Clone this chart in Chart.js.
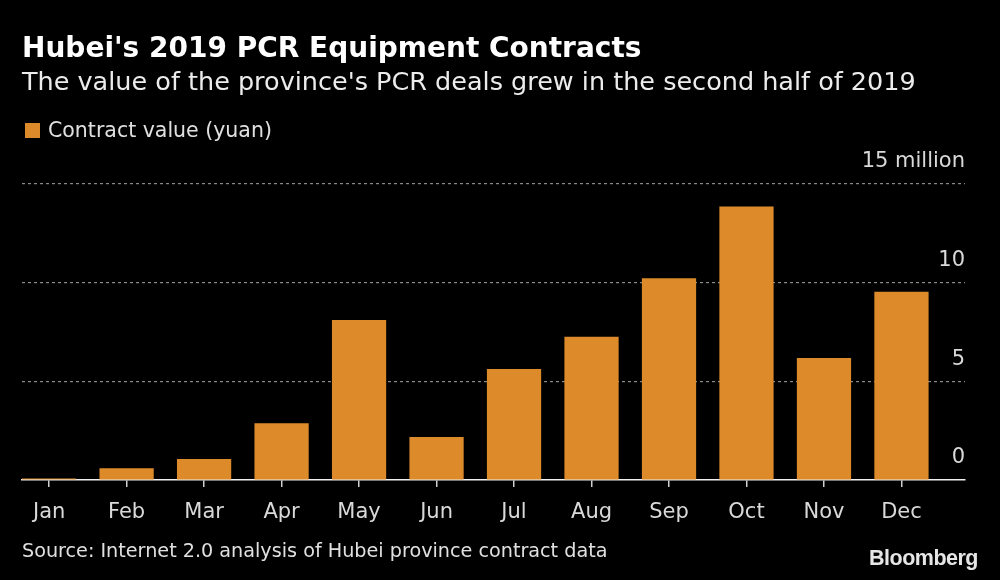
<!DOCTYPE html>
<html>
<head>
<meta charset="utf-8">
<script src="https://cdn.jsdelivr.net/npm/chart.js@4"></script>
<style>
  html, body { margin:0; padding:0; background:#000; }
  #wrap { position:relative; width:1000px; height:580px; background:#000; overflow:hidden; }
  #chart { position:absolute; left:0; top:0; }
  .t { position:absolute; white-space:nowrap; font-family:"DejaVu Sans", sans-serif; line-height:1; }
  #title { left:22px; top:34px; font-size:28px; font-weight:bold; color:#fff; }
  #subtitle { left:22px; top:69px; font-size:25.5px; color:#ececec; }
  #legend { left:25px; top:120px; font-size:20.5px; color:#e0e0e0; }
  #legend span.box { display:inline-block; width:15px; height:15px; background:#dd8b2a; margin-right:8px; vertical-align:-1px; }
  #source { left:22px; top:541px; font-size:19.2px; color:#e0e0e0; }
  #logo { left:869px; top:548px; font-size:21.5px; font-weight:bold; color:#e6e6e6; font-family:"Liberation Sans", Arial, sans-serif; letter-spacing:-0.5px; }
</style>
</head>
<body>
<div id="wrap">
  <canvas id="chart" width="1000" height="580"></canvas>
  <div class="t" id="title">Hubei's 2019 PCR Equipment Contracts</div>
  <div class="t" id="subtitle">The value of the province's PCR deals grew in the second half of 2019</div>
  <div class="t" id="legend"><span class="box"></span>Contract value (yuan)</div>
  <div class="t" id="source">Source: Internet 2.0 analysis of Hubei province contract data</div>
  <div class="t" id="logo">Bloomberg</div>
</div>
<script>
const months = ["Jan","Feb","Mar","Apr","May","Jun","Jul","Aug","Sep","Oct","Nov","Dec"];
const contractValue = [0.07, 0.6, 1.07, 2.88, 8.11, 2.18, 5.62, 7.26, 10.23, 13.86, 6.18, 9.54]; // million yuan
const yTicks = [0, 5, 10, 15];
const seriesName = "Contract value (yuan)";

const tickFont = { family: "DejaVu Sans", size: 21 };

new Chart(document.getElementById('chart'), {
  type: 'bar',
  data: {
    datasets: [{
      label: seriesName,
      data: contractValue.map((v, i) => ({ x: i, y: v })),
      backgroundColor: '#dd8b2a',
      borderWidth: 0,
      barPercentage: 0.7,
      categoryPercentage: 1.0
    }]
  },
  options: {
    responsive: false,
    animation: false,
    devicePixelRatio: 1,
    layout: { padding: { left: 22, right: 35, top: 184, bottom: 40 } },
    plugins: { legend: { display: false }, tooltip: { enabled: false }, title: { display: false } },
    scales: {
      x: {
        type: 'linear',
        offset: false,
        min: -0.35,
        max: 11.82,
        afterBuildTicks: (s) => { s.ticks = months.map((m, i) => ({ value: i })); },
        afterFit: (s) => { s.height = 60; },
        ticks: {
          callback: (v) => months[v] ?? '',
          color: '#d9d9d9',
          font: tickFont,
          padding: 13,
          autoSkip: false,
          maxRotation: 0
        },
        grid: { offset: false, drawOnChartArea: false, drawTicks: true, tickLength: 7, color: '#d0d0d0', lineWidth: 1.5 },
        border: { display: true, color: '#f0f0f0', width: 1.5 }
      },
      y: {
        position: 'right',
        min: 0,
        max: 15,
        afterBuildTicks: (s) => { s.ticks = yTicks.map(v => ({ value: v })); },
        afterFit: (s) => { s.width = 0; },
        ticks: {
          mirror: true,
          padding: 0,
          labelOffset: -22,
          color: '#d9d9d9',
          font: tickFont,
          callback: (v) => v === 15 ? '15 million' : String(v)
        },
        grid: {
          drawTicks: false,
          color: (ctx) => ctx.tick && ctx.tick.value === 0 ? 'rgba(0,0,0,0)' : '#8a8a8a',
          lineWidth: 1.2
        },
        border: { display: false, dash: [3, 3] }
      }
    }
  }
});
</script>
</body>
</html>
